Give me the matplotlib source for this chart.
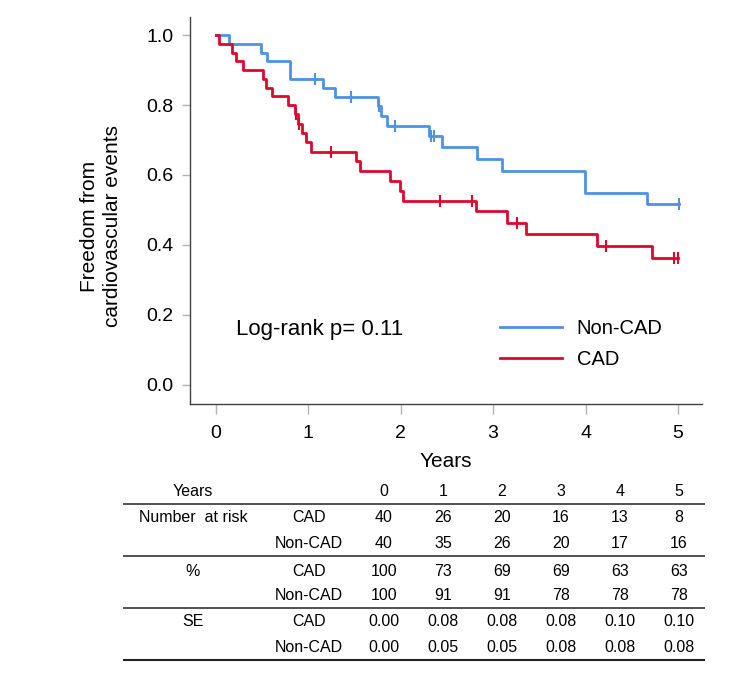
import numpy as np
import matplotlib
matplotlib.use("Agg")
import matplotlib.pyplot as plt

plt.rcParams["font.family"] = ["Liberation Sans", "DejaVu Sans"]

BLUE = "#4C92E6"
RED = "#E0062D"
SPINE = "#404040"
TICK = "#b4b4b4"

# Kaplan-Meier steps
non_t = [0, 0.144, 0.487, 0.548, 0.80, 1.155, 1.288, 1.75, 1.79, 1.847,
         2.31, 2.45, 2.83, 3.10, 3.997, 4.67]
non_s = [1.0, 0.975, 0.95, 0.925, 0.875, 0.849, 0.823, 0.797, 0.770, 0.741,
         0.712, 0.680, 0.646, 0.612, 0.548, 0.517]
non_end = 5.01
non_cens = [1.07, 1.458, 1.77, 1.937, 2.33, 2.36, 5.01]

cad_t = [0, 0.036, 0.17, 0.216, 0.296, 0.505, 0.541, 0.603, 0.783, 0.855,
         0.891, 0.927, 0.98, 1.028, 1.52, 1.558, 1.883, 1.99, 2.03, 2.82,
         3.15, 3.36, 4.12, 4.72]
cad_s = [1.0, 0.975, 0.95, 0.925, 0.90, 0.875, 0.85, 0.825, 0.80, 0.775,
         0.747, 0.72, 0.694, 0.667, 0.639, 0.61, 0.582, 0.553, 0.526, 0.496,
         0.462, 0.432, 0.397, 0.362]
cad_end = 5.0
cad_cens = [0.87, 0.90, 1.25, 2.42, 2.77, 3.26, 4.22, 4.96, 5.0]

# table below the plot
years = [0, 1, 2, 3, 4, 5]
risk_cad = [40, 26, 20, 16, 13, 8]
risk_non = [40, 35, 26, 20, 17, 16]
pct_cad = [100, 73, 69, 69, 63, 63]
pct_non = [100, 91, 91, 78, 78, 78]
se_cad = ["0.00", "0.08", "0.08", "0.08", "0.10", "0.10"]
se_non = ["0.00", "0.05", "0.05", "0.08", "0.08", "0.08"]

W, H = 750, 681
fig = plt.figure(figsize=(7.5, 6.81), dpi=100)
ax = fig.add_axes([190 / W, 1 - 404.5 / H, 512 / W, 387.8 / H])


def km(ax, t, s, end, cens, color, label):
    ax.step(t + [end], s + [s[-1]], where="post", color=color, lw=2.0, label=label)
    idx = np.searchsorted(t, cens, side="right") - 1
    ax.plot(cens, np.array(s)[idx], ls="none", marker="|", ms=8.5, mew=1.5, color=color)


km(ax, non_t, non_s, non_end, non_cens, BLUE, "Non-CAD")
km(ax, cad_t, cad_s, cad_end, cad_cens, RED, "CAD")

ax.set_xlim(-0.28, 5.26)
ax.set_ylim(-0.057, 1.053)
ax.set_xticks(years)
ax.set_yticks([0, 0.2, 0.4, 0.6, 0.8, 1.0])
ax.set_yticklabels(["0.0", "0.2", "0.4", "0.6", "0.8", "1.0"])
for side in ["top", "right"]:
    ax.spines[side].set_visible(False)
for side in ["left", "bottom"]:
    ax.spines[side].set_color(SPINE)
    ax.spines[side].set_linewidth(1.0)
ax.tick_params(axis="y", length=6, width=1, color=TICK, labelsize=14, pad=6)
ax.tick_params(axis="x", length=7, width=1, color=TICK, labelsize=14, pad=8)
ax.set_xlabel("Years", fontsize=15, labelpad=7)

fig.text(101 / W, 1 - 226 / H, "Freedom from\ncardiovascular events", rotation=90,
         ha="center", va="center", multialignment="center", fontsize=15,
         linespacing=1.3)

ax.text(0.22, 0.159, "Log-rank p= 0.11", fontsize=16, va="center", ha="left")

ax.legend(loc="upper left", bbox_to_anchor=(500 / W, 1 - 319 / H),
          bbox_transform=fig.transFigure, frameon=False, fontsize=14.5,
          handlelength=3.1, handletextpad=0.7, labelspacing=0.6,
          borderpad=0, borderaxespad=0)

# number-at-risk table in pixel coordinates
tb = fig.add_axes([0, 0, 1, 1])
tb.set_xlim(0, W)
tb.set_ylim(H, 0)
tb.axis("off")
fs = 11.5
col_x = [384, 443, 502, 561, 620, 679]
tb.text(193, 492, "Years", fontsize=fs, ha="center", va="center")
for x, y in zip(col_x, years):
    tb.text(x, 492, str(y), fontsize=fs, ha="center", va="center")

blocks = [("Number  at risk", risk_cad, risk_non, 518, 544),
          ("%", pct_cad, pct_non, 571, 596),
          ("SE", se_cad, se_non, 622, 648)]
for name, a, b, y1, y2 in blocks:
    tb.text(193, y1, name, fontsize=fs, ha="center", va="center")
    tb.text(309, y1, "CAD", fontsize=fs, ha="center", va="center")
    tb.text(309, y2, "Non-CAD", fontsize=fs, ha="center", va="center")
    for x, v1, v2 in zip(col_x, a, b):
        tb.text(x, y1, str(v1), fontsize=fs, ha="center", va="center")
        tb.text(x, y2, str(v2), fontsize=fs, ha="center", va="center")

for y, lw in [(504, 1.1), (556, 1.1), (608, 1.1), (660, 1.5)]:
    tb.plot([123, 705], [y, y], color="#222222", lw=lw, solid_capstyle="butt")

fig.savefig("out.png", dpi=100, facecolor="white")
